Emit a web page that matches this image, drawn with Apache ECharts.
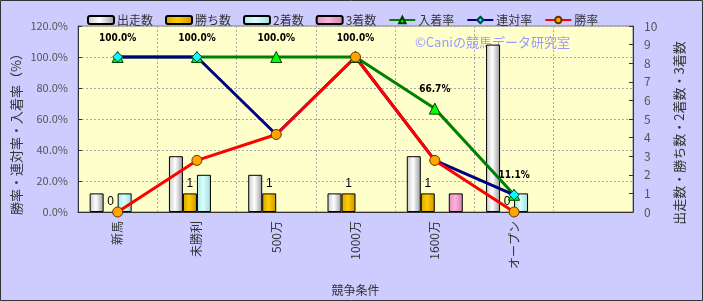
<!DOCTYPE html>
<html><head><meta charset="utf-8">
<script src="https://cdn.jsdelivr.net/npm/echarts@6/dist/echarts.min.js"></script>
<style>html,body{margin:0;padding:0;background:#ccccff}#c{width:703px;height:301px}</style>
</head><body><div id="c"></div>
<script>
var categories = ['新馬', '未勝利', '500万', '1000万', '1600万', 'オープン', ''];
var starts = [1, 3, 2, 1, 3, 9, null];
var wins = [0, 1, 1, 1, 1, 0, null];
var seconds = [1, 2, 0, 0, 0, 1, null];
var thirds = [0, 0, 0, 0, 1, 0, null];
var placeRate = [100, 100, 100, 100, 66.7, 11.1, null];
var quinellaRate = [100, 100, 50, 100, 33.3, 11.1, null];
var winRate = [0, 33.3, 50, 100, 33.3, 0, null];
var leftTicks = {min: 0, max: 120, interval: 20};
var rightTicks = {min: 0, max: 10, interval: 1};
var leftAxisName = '勝率・連対率・入着率（%）';
var rightAxisName = '出走数・勝ち数・2着数・3着数';

var FONT = '"Noto Sans CJK JP", sans-serif';
function grad(a, b, c) {
  return new echarts.graphic.LinearGradient(0, 0, 1, 0, [
    {offset: 0, color: a}, {offset: 0.45, color: b}, {offset: 1, color: c}]);
}
function barData(arr) {
  return arr.map(function (v) {
    return v === 0 ? {value: 0, itemStyle: {borderWidth: 0, opacity: 0}} : v;
  });
}
var barBase = {type: 'bar', yAxisIndex: 1, barWidth: 14, barGap: '0%', barCategoryGap: '26%'};
function bar(name, data, g, extra) {
  return Object.assign({}, barBase, {
    name: name, data: barData(data),
    itemStyle: {color: g, borderColor: '#000', borderWidth: 1}
  }, extra || {});
}
var chart = echarts.init(document.getElementById('c'));
chart.setOption({
  backgroundColor: '#ccccff',
  textStyle: {fontFamily: FONT},
  animation: false,
  grid: {left: 78, right: 70, top: 26, bottom: 88, show: true, backgroundColor: '#ffffcc', borderColor: '#808080', borderWidth: 1},
  legend: {
    left: 82, top: 9, itemWidth: 26, itemHeight: 8, itemGap: 12,
    textStyle: {fontSize: 12, color: '#333', fontFamily: FONT, padding: [0, 0, 0, -2]},
    data: [
      {name: '出走数', icon: 'roundRect'}, {name: '勝ち数', icon: 'roundRect'},
      {name: '2着数', icon: 'roundRect'}, {name: '3着数', icon: 'roundRect'},
      '入着率', '連対率', '勝率']
  },
  graphic: [
    {type: 'text', left: 415, top: 36, z: 0, style: {text: '©Caniの競馬データ研究室', fill: '#9999ff', font: '13px ' + FONT}},
    {type: 'text', x: 16, y: 131, rotation: Math.PI / 2, style: {text: leftAxisName, fill: '#333', font: '13px ' + FONT, align: 'center', verticalAlign: 'middle'}},
    {type: 'text', x: 679, y: 133, rotation: Math.PI / 2, style: {text: rightAxisName, fill: '#333', font: '13px ' + FONT, align: 'center', verticalAlign: 'middle'}},
    {type: 'rect', shape: {x: 0.5, y: 0.5, width: 702, height: 300}, style: {fill: 'none', stroke: '#333', lineWidth: 1}, z: 100}
  ],
  xAxis: {
    type: 'category', data: categories,
    name: '競争条件', nameLocation: 'middle', nameGap: 72,
    nameTextStyle: {fontSize: 12, color: '#333'},
    axisLine: {lineStyle: {color: '#333'}},
    axisTick: {show: false},
    axisLabel: {rotate: 90, fontSize: 12, color: '#333', margin: 9},
    splitLine: {show: true, interval: 0, lineStyle: {color: '#aaa', type: [2, 2]}}
  },
  yAxis: [
    {
      type: 'value', min: leftTicks.min, max: leftTicks.max, interval: leftTicks.interval,
      axisLine: {show: true, lineStyle: {color: '#333'}},
      axisTick: {show: true, inside: true, length: 4, lineStyle: {color: '#333'}},
      axisLabel: {fontSize: 11, color: '#555', margin: 10, formatter: function (v) { return v.toFixed(1) + '%'; }},
      splitLine: {show: true, lineStyle: {color: '#aaa', type: [2, 2]}}
    },
    {
      type: 'value', min: rightTicks.min, max: rightTicks.max, interval: rightTicks.interval, position: 'right',
      axisLine: {show: true, lineStyle: {color: '#333'}},
      axisTick: {show: true, inside: true, length: 4, lineStyle: {color: '#333'}},
      axisLabel: {fontSize: 12, color: '#555', margin: 11},
      splitLine: {show: false}
    }
  ],
  series: [
    bar('出走数', starts, grad('#c8c8c8', '#ffffff', '#9a9a9a')),
    bar('勝ち数', wins, grad('#d8a400', '#ffcc00', '#c89400'), {
      label: {show: true, position: 'top', distance: 4, fontSize: 12, color: '#000', opacity: 1, fontFamily: 'Liberation Sans'}
    }),
    bar('2着数', seconds, grad('#b0e8e8', '#d8ffff', '#a0dada')),
    bar('3着数', thirds, grad('#e090c0', '#ffb0dd', '#d080b0')),
    {
      name: '入着率', type: 'line', yAxisIndex: 0, data: placeRate,
      symbol: 'triangle', symbolSize: 11,
      lineStyle: {color: '#008000', width: 3},
      itemStyle: {color: '#00ff00', borderColor: '#004000', borderWidth: 1},
      label: {show: true, position: 'top', distance: 8, fontSize: 10, fontWeight: 'bold', color: '#000', fontFamily: 'DejaVu Sans Condensed, Liberation Sans',
        formatter: function (p) { return p.value.toFixed(1) + '%'; }}
    },
    {
      name: '連対率', type: 'line', yAxisIndex: 0, data: quinellaRate,
      symbol: 'diamond', symbolSize: 10,
      lineStyle: {color: '#000080', width: 3},
      itemStyle: {color: '#00ffff', borderColor: '#004040', borderWidth: 1}
    },
    {
      name: '勝率', type: 'line', yAxisIndex: 0, data: winRate,
      symbol: 'circle', symbolSize: 10,
      lineStyle: {color: '#ff0000', width: 3},
      itemStyle: {color: '#ffa500', borderColor: '#663300', borderWidth: 1}
    }
  ]
});
</script></body></html>
